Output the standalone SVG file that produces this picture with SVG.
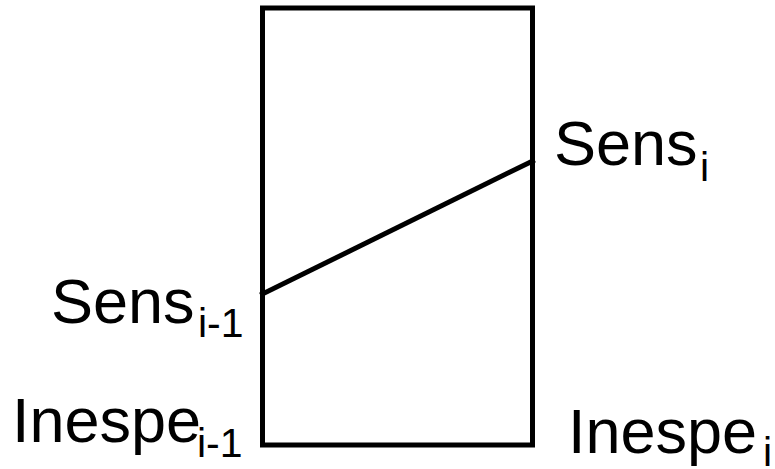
<svg xmlns="http://www.w3.org/2000/svg" width="775" height="469" viewBox="0 0 775 469">
<style>
.ln{fill:none;stroke:#000;stroke-width:5;stroke-linecap:square}
.t{font-family:"Liberation Sans",Arial,sans-serif;fill:#000}
.m{font-size:63px}
.s{font-size:41px}
</style>
<rect width="775" height="469" fill="#fff"/>
<g id="box"><rect class="ln" x="262.5" y="8" width="270" height="437"/></g>
<g id="connectors"><line class="ln" x1="262.5" y1="294" x2="532.5" y2="161" stroke-linecap="butt"/></g>
<g id="sens-i-1"><text class="t m" x="51" y="323">Sens</text><text class="t s" x="198" y="337">i-1</text></g>
<g id="sens-i"><text class="t m" x="554" y="165">Sens</text><text class="t s" x="700" y="181">i</text></g>
<g id="inespe-i-1"><text class="t m" x="12" y="442">Inespe</text><text class="t s" x="197" y="457">i-1</text></g>
<g id="inespe-i"><text class="t m" x="568" y="453">Inespe</text><text class="t s" x="763" y="466">i</text></g>
</svg>
